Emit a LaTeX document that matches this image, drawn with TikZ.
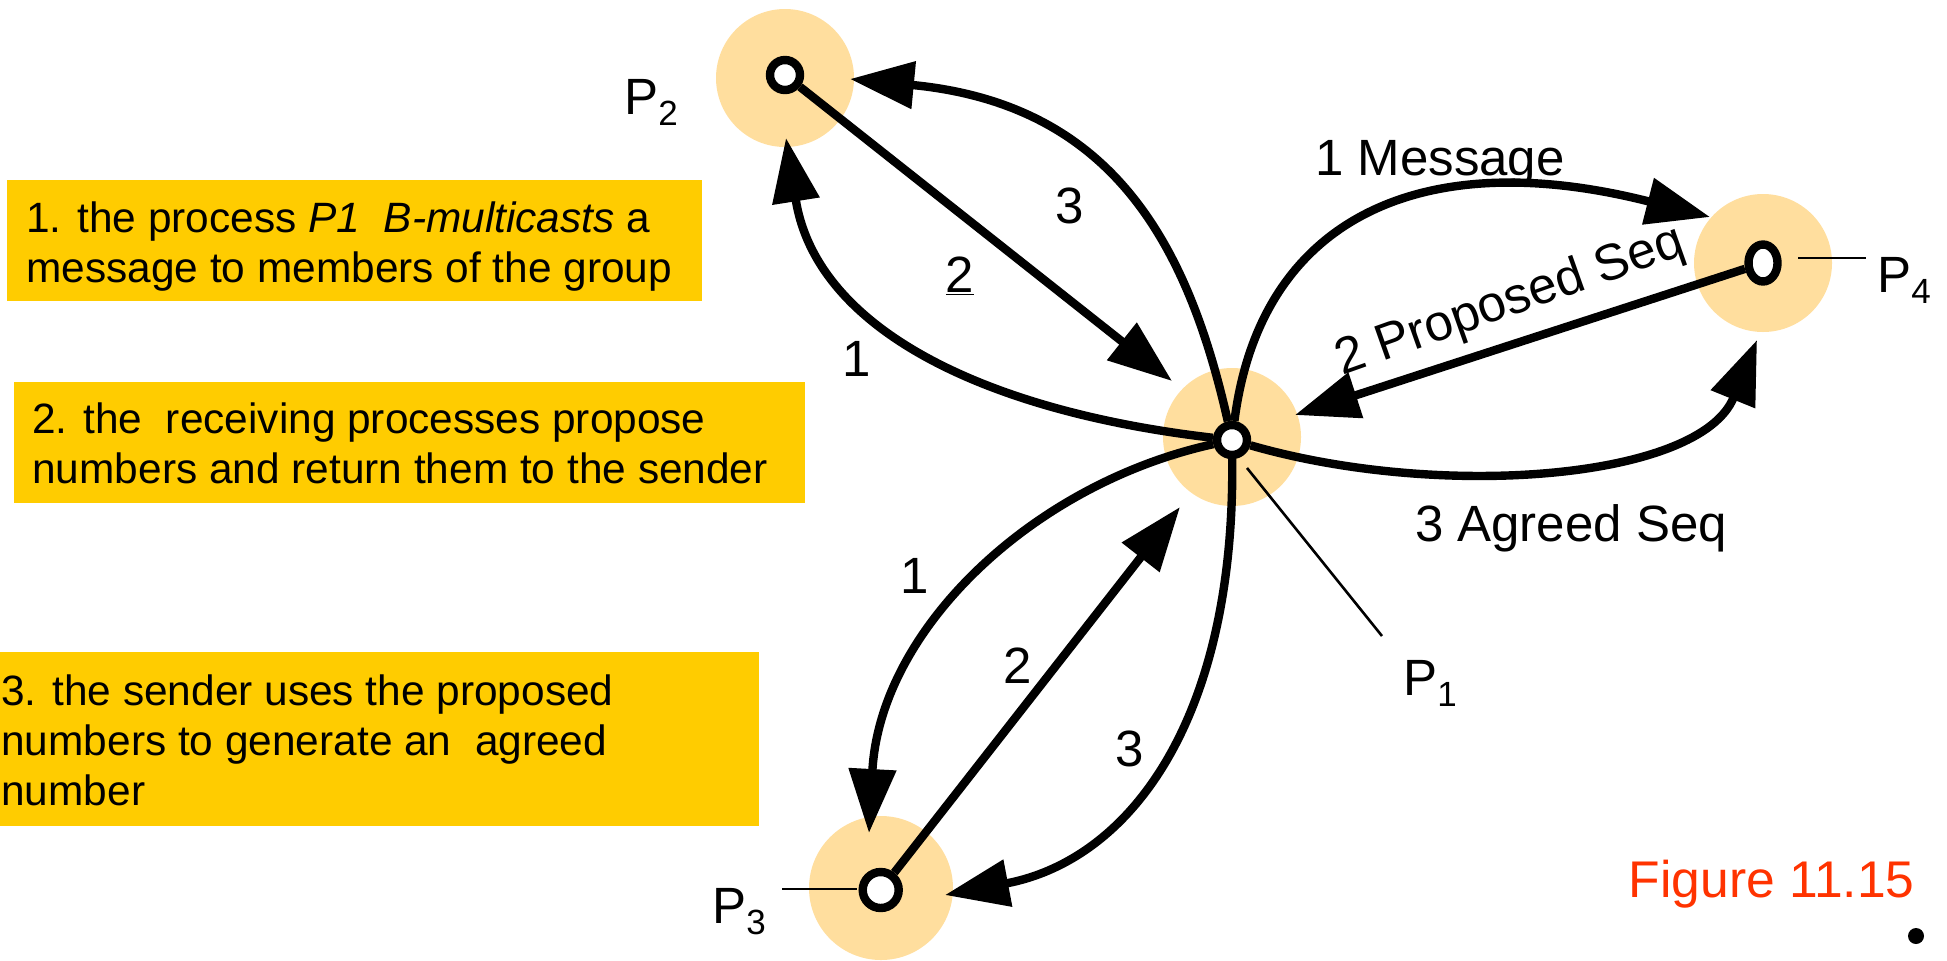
\documentclass[tikz,border=0pt]{standalone}
\usepackage{fontspec}
\setmainfont{Liberation Sans}
\usetikzlibrary{arrows.meta,shapes.geometric}
\definecolor{boxgold}{HTML}{FFCC00}
\definecolor{diskorange}{HTML}{FFDE9E}
\definecolor{figred}{HTML}{FF3300}
\newcommand{\subdigit}[1]{\raisebox{-5.5pt}{\fontsize{17.5}{20}\selectfont #1}}
\begin{document}
\begin{tikzpicture}[x=0.5pt,y=-0.5pt,
  disk/.style={circle, fill=diskorange, minimum size=69pt, inner sep=0},
  proc/.style={circle, draw, fill=white, line width=4.2pt, inner sep=0, minimum size=15pt},
  arr/.style={line width=4.2pt, -{Triangle[length=32pt,width=23pt]}},
  thinline/.style={line width=1.3pt},
  lbl/.style={font=\fontsize{25.5}{30}\selectfont, inner sep=0},
  box/.style={fill=boxgold, inner sep=0, anchor=north west},
  boxtext/.style={font=\fontsize{21.2}{25}\selectfont, align=left, inner sep=0, anchor=north west},
]
\useasboundingbox (0,0) rectangle (1947,960);

% yellow explanation boxes
\node[box, minimum width=347.5pt, minimum height=60.35pt] (b1) at (6.7,180) {};
\node[box, minimum width=395.85pt, minimum height=60.6pt] (b2) at (13.3,381.5) {};
\node[box, minimum width=379.35pt, minimum height=87pt] (b3) at (0,651.7) {};
\node[boxtext] (t1) at (26,201.3) {1. the process \textit{P1\ \ B-multicasts} a\\message to members of the group};
\node[boxtext] (t2) at (32,402.3) {2. the\ \ receiving processes propose\\numbers and return them to the sender};
\node[boxtext] (t3) at (1,674.6) {3. the sender uses the proposed\\numbers to generate an\ \ agreed\\number};

% orange disks
\node[disk] (d2) at (785,78) {};
\node[disk] (d1) at (1232,437) {};
\node[disk] (d4) at (1763,263) {};
\node[disk, minimum size=72pt] (d3) at (881,888) {};

% process nodes
\node[proc] (p2) at (785,75) {};
\node[proc] (p1) at (1232,440) {};
\node[proc, minimum size=18pt] (p3) at (880.7,890) {};
\node[proc, ellipse, minimum width=14.5pt, minimum height=18.5pt] (p4) at (1763,263) {};

% arrow tip coordinates
\coordinate (tA) at (786,138);
\coordinate (tB) at (850,79);
\coordinate (tC) at (1710,217);
\coordinate (tD) at (1757,340);
\coordinate (tE) at (869,833);
\coordinate (tF) at (945,895);
\coordinate (t2) at (1172,381);
\coordinate (t4) at (1295,415);
\coordinate (t3) at (1180,507);

% connectors
\draw[arr] (p1) .. controls (982,411) and (816,328) .. (tA);
\draw[arr] (p1) .. controls (1187,240) and (1110,104) .. (tB);
\draw[arr] (p1) .. controls (1260,220) and (1419,143) .. (tC);
\draw[arr] (p1) .. controls (1440,500) and (1700,480) .. (tD);
\draw[arr] (p1) .. controls (1032,484) and (880,630) .. (tE);
\draw[arr] (p1) .. controls (1235,720) and (1130,860) .. (tF);
\draw[arr] (p2) -- (t2);
\draw[arr] (p4) -- (t4);
\draw[arr] (p3) -- (t3);

% connector labels
\node[lbl, anchor=base] (n1a) at (857,376) {1};
\node[lbl, anchor=base] (n2a) at (960,292) {\underline{2}};
\node[lbl, anchor=base] (n3a) at (1069.5,223) {3};
\node[lbl, anchor=base] (msg) at (1440,175) {1 Message};
\node[lbl, anchor=base west, rotate=19.5] (prop) at (1342,376) {2 Proposed Seq};
\node[lbl, anchor=base] (agr) at (1571,541) {3 Agreed Seq};
\node[lbl, anchor=base] (n1b) at (915,593) {1};
\node[lbl, anchor=base] (n2b) at (1018,683) {2};
\node[lbl, anchor=base] (n3b) at (1130,766) {3};

% process labels
\node[lbl, anchor=base west] (P2) at (624,114) {P\subdigit{2}};
\node[lbl, anchor=base west] (P1) at (1403,695) {P\subdigit{1}};
\node[lbl, anchor=base west] (P3) at (712,923) {P\subdigit{3}};
\node[lbl, anchor=base west] (P4) at (1877,292) {P\subdigit{4}};
\coordinate (l1a) at (1247,468);
\coordinate (l1b) at (1382,636);
\coordinate (l3a) at (782,889);
\coordinate (l3b) at (857,889);
\coordinate (l4a) at (1798,258);
\coordinate (l4b) at (1866,258);
\draw[thinline] (l1b) -- (l1a);
\draw[thinline] (l3a) -- (l3b);
\draw[thinline] (l4a) -- (l4b);

% figure caption
\node[lbl, font=\fontsize{25.8}{30}\selectfont, text=figred, anchor=base east] (fig) at (1915,897) {Figure 11.15};
\node[circle, fill=black, inner sep=0, minimum size=8pt] (dot) at (1916,936) {};
\end{tikzpicture}
\end{document}
